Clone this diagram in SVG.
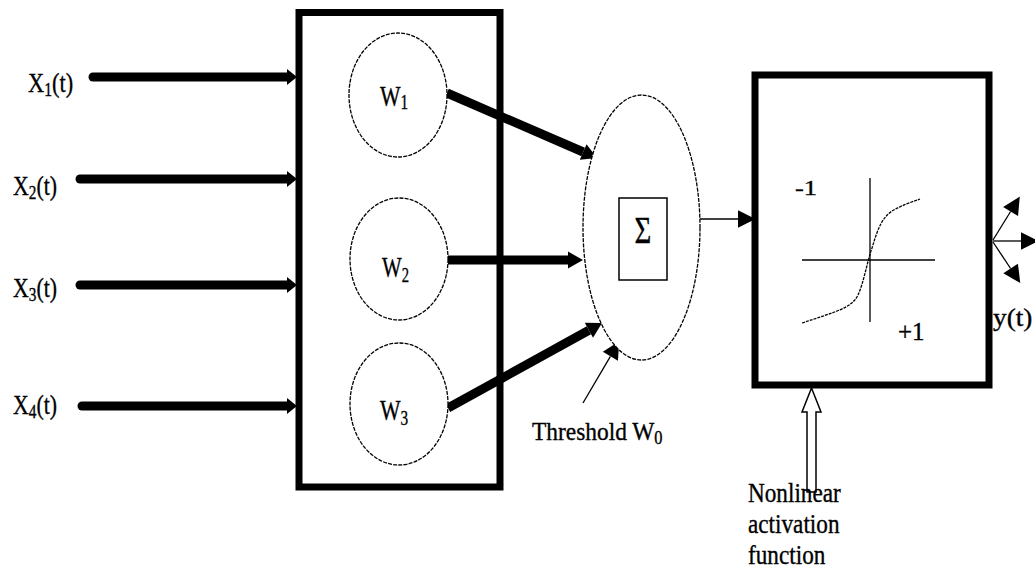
<svg xmlns="http://www.w3.org/2000/svg" width="1035" height="574" viewBox="0 0 1035 574">
<style>
.box{fill:none;stroke:#000;stroke-width:7}
.node{fill:#fff;stroke:#000;stroke-width:1.3;stroke-dasharray:4 1.2}
.thick{stroke:#000;stroke-width:9;fill:none}
.thin{stroke:#000;stroke-width:1.3;fill:none}
.lbl{font-family:"Liberation Serif","Times New Roman",serif;fill:#000;stroke:#000;stroke-width:0.35}
.sub{font-size:70%}
</style>
<defs>
<marker id="headBig" markerUnits="userSpaceOnUse" markerWidth="20" markerHeight="20" refX="0" refY="0" viewBox="0 -10 16 20" orient="auto" overflow="visible">
<path d="M0,-8.5 L15,0 L0,8.5 z" fill="#000"/>
</marker>
<marker id="headIn" markerUnits="userSpaceOnUse" markerWidth="20" markerHeight="20" refX="0" refY="0" viewBox="0 -10 12 20" orient="auto" overflow="visible">
<path d="M0,-8 L10,0 L0,8 z" fill="#000"/>
</marker>
<marker id="headThin" markerUnits="userSpaceOnUse" markerWidth="20" markerHeight="20" refX="0" refY="0" viewBox="0 -8 15 16" orient="auto" overflow="visible">
<path d="M0,-7 L14,0 L0,7 z" fill="#000"/>
</marker>
</defs>

<g id="connectors">
<line class="thick" x1="93" y1="77" x2="287" y2="77" stroke-linecap="round" marker-end="url(#headIn)"/>
<line class="thick" x1="80" y1="179" x2="287" y2="179" stroke-linecap="round" marker-end="url(#headIn)"/>
<line class="thick" x1="80" y1="285" x2="287" y2="285" stroke-linecap="round" marker-end="url(#headIn)"/>
<line class="thick" x1="82" y1="406" x2="287" y2="406" stroke-linecap="round" marker-end="url(#headIn)"/>
<line class="thick" x1="447" y1="93" x2="583.2" y2="152" marker-end="url(#headBig)"/>
<line class="thick" x1="448" y1="260" x2="568" y2="260" marker-end="url(#headBig)"/>
<line class="thick" x1="448" y1="408" x2="588.9" y2="330.2" marker-end="url(#headBig)"/>
<line class="thin" x1="700" y1="219" x2="738" y2="219" marker-end="url(#headThin)"/>
<line class="thin" x1="583" y1="403" x2="610.4" y2="356.3" marker-end="url(#headThin)"/>
<line class="thin" x1="993" y1="240" x2="1010.6" y2="211.5" marker-end="url(#headThin)"/>
<line class="thin" x1="993" y1="241" x2="1021" y2="241" marker-end="url(#headThin)"/>
<line class="thin" x1="993" y1="242" x2="1010.6" y2="268.5" marker-end="url(#headThin)"/>
<polygon id="activation-arrow" points="807,492 807,412 802,412 811.5,388 821,412 816,412 816,492" fill="#fff" stroke="#000" stroke-width="1.5"/>
</g>

<g id="inputs">
<text class="lbl" transform="translate(28 92) scale(0.8 1)" font-size="28">X<tspan class="sub" dy="4">1</tspan><tspan dy="-4">(t)</tspan></text>
<text class="lbl" transform="translate(13 195) scale(0.78 1)" font-size="28">X<tspan class="sub" dy="4">2</tspan><tspan dy="-4">(t)</tspan></text>
<text class="lbl" transform="translate(13 297) scale(0.78 1)" font-size="28">X<tspan class="sub" dy="4">3</tspan><tspan dy="-4">(t)</tspan></text>
<text class="lbl" transform="translate(13 414) scale(0.78 1)" font-size="28">X<tspan class="sub" dy="4">4</tspan><tspan dy="-4">(t)</tspan></text>
</g>

<g id="weight-box">
<rect class="box" x="299" y="12.5" width="201" height="474.5"/>
</g>

<g id="w1">
<ellipse class="node" cx="398" cy="95" rx="49" ry="62"/>
<text class="lbl" transform="translate(380 106) scale(0.75 1)" font-size="29">W<tspan class="sub" dy="3">1</tspan></text>
</g>
<g id="w2">
<ellipse class="node" cx="399" cy="259" rx="49" ry="61"/>
<text class="lbl" transform="translate(382 277) scale(0.72 1)" font-size="29">W<tspan class="sub" dy="5">2</tspan></text>
</g>
<g id="w3">
<ellipse class="node" cx="399" cy="404" rx="49" ry="61"/>
<text class="lbl" transform="translate(380 420) scale(0.75 1)" font-size="29">W<tspan class="sub" dy="5">3</tspan></text>
</g>

<g id="summation">
<ellipse class="node" cx="641.5" cy="227.5" rx="58.5" ry="132.5"/>
<rect x="619" y="198" width="48" height="82" fill="#fff" stroke="#000" stroke-width="1.5"/>
<text class="lbl" transform="translate(643 243) scale(0.78 1)" font-size="37" text-anchor="middle">Σ</text>
</g>

<g id="threshold">
<text class="lbl" transform="translate(532 440) scale(0.9 1)" font-size="26">Threshold W<tspan class="sub" dy="4">0</tspan></text>
</g>

<g id="activation-box">
<rect class="box" x="755" y="75" width="234" height="310"/>
<line class="thin" x1="870" y1="178" x2="870" y2="322"/>
<line class="thin" x1="802" y1="260" x2="935" y2="260"/>
<path d="M802,323 C835,312 852,308 858,295 C864,282 867,262 872,248 C878,228 882,218 892,211 C902,205 912,202 920,199" fill="none" stroke="#000" stroke-width="1.3" stroke-dasharray="3 1"/>
<text class="lbl" transform="translate(795 195) scale(1.2 1)" font-size="22">-1</text>
<text class="lbl" x="898" y="340" font-size="25">+1</text>
</g>

<g id="output">
<text class="lbl" transform="translate(993 326) scale(1.05 1)" font-size="26">y(t)</text>
</g>

<g id="activation-label">
<text class="lbl" transform="translate(748 502) scale(0.86 1)" font-size="27">Nonlinear</text>
<text class="lbl" transform="translate(748 533) scale(0.86 1)" font-size="27">activation</text>
<text class="lbl" transform="translate(748 564) scale(0.86 1)" font-size="27">function</text>
</g>
</svg>
